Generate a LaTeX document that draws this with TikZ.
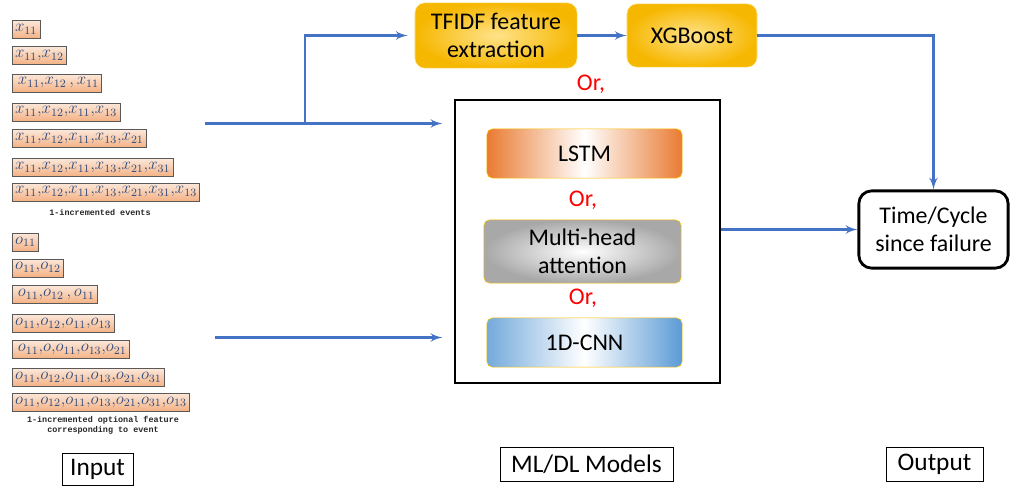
\documentclass[tikz,border=0pt]{standalone}
\usepackage{fontspec}
\setmainfont{Carlito}
\newfontfamily\notefont{Liberation Mono}
\usetikzlibrary{calc,positioning,arrows,shapes}

\definecolor{seqink}{HTML}{2F4B7C}
\definecolor{peachtop}{HTML}{FCE8DA}
\definecolor{peachbot}{HTML}{F4B183}
\definecolor{flowblue}{HTML}{4472C4}
\definecolor{goldedge}{HTML}{FFC000}
\definecolor{goldin}{HTML}{FFE38A}
\definecolor{goldout}{HTML}{F6B700}
\definecolor{lstmorange}{HTML}{E97B32}
\definecolor{cnnblue}{HTML}{5B9BD5}
\definecolor{attgray}{HTML}{A8A8A8}

\tikzset{
>=latex',
  seq/.style={
    rectangle,
    draw=black!65, thin,
    top color=peachtop, bottom color=peachbot,
    text=seqink,
    inner xsep=2pt, inner ysep=0pt,
    minimum height=12.8pt,
    anchor=west,
    font=\fontsize{12}{12}\selectfont},
  seqnote/.style={
    font=\notefont\bfseries\fontsize{6}{7}\selectfont,
    align=center, text=black!85},
  flow/.style={draw=flowblue, line width=1.9pt, ->},
  stage/.style={
    rectangle,
    rounded corners=7pt,
    draw=goldin, thin,
    inner color=goldin, outer color=goldout,
    align=center,
    font=\fontsize{17}{20}\selectfont},
  model/.style={
    rectangle,
    rounded corners=4pt,
    draw=goldedge, thin,
    minimum width=4.88cm,
    align=center,
    font=\fontsize{17}{20}\selectfont},
  orlabel/.style={text=red, font=\fontsize{17}{20}\selectfont},
  sectiontag/.style={
    rectangle, draw=black, thin,
    minimum height=0.85cm,
    font=\fontsize{18}{21}\selectfont},
}

\begin{document}
\begin{tikzpicture}[x=0.025cm, y=-0.025cm]
  \useasboundingbox (0,0) rectangle (1010,488);

  %% event sequences
  \node[seq] (x1) at (12,29.5) {$x_{11}$};
  \node[seq] (x2) at (12,55.5) {$x_{11}{,}x_{12}$};
  \node[seq] (x3) at (12,83) {$\,x_{11}{,}x_{12}\,{,}\,x_{11}$};
  \node[seq] (x4) at (12,112) {$x_{11}{,}x_{12}{,}x_{11}{,}x_{13}$};
  \node[seq] (x5) at (12,138.5) {$x_{11}{,}x_{12}{,}x_{11}{,}x_{13}{,}x_{21}$};
  \node[seq] (x6) at (12,167.5) {$x_{11}{,}x_{12}{,}x_{11}{,}x_{13}{,}x_{21}{,}x_{31}$};
  \node[seq] (x7) at (12,192) {$x_{11}{,}x_{12}{,}x_{11}{,}x_{13}{,}x_{21}{,}x_{31}{,}x_{13}$};
  \node[seqnote] (xnote) at (100,212) {1-incremented events};

  %% optional feature sequences
  \node[seq] (o1) at (12,242) {$o_{11}$};
  \node[seq] (o2) at (12,268) {$o_{11}{,}o_{12}$};
  \node[seq] (o3) at (12,294.5) {$\,o_{11}{,}o_{12}\,{,}\,o_{11}$};
  \node[seq] (o4) at (12,323.5) {$o_{11}{,}o_{12}{,}o_{11}{,}o_{13}$};
  \node[seq] (o5) at (12,349.5) {$\,o_{11}{,}o{,}o_{11}{,}o_{13}{,}o_{21}$};
  \node[seq] (o6) at (12,377.5) {$o_{11}{,}o_{12}{,}o_{11}{,}o_{13}{,}o_{21}{,}o_{31}$};
  \node[seq] (o7) at (12,402) {$o_{11}{,}o_{12}{,}o_{11}{,}o_{13}{,}o_{21}{,}o_{31}{,}o_{13}$};
  \node[seqnote] (onote) at (103,425.5) {1-incremented optional feature\\corresponding to event};

  %% classic pipeline
  \node[stage, minimum width=4.05cm, minimum height=1.63cm] (tfidf) at (496,35.5) {TFIDF feature\\extraction};
  \node[stage, minimum width=3.25cm, minimum height=1.58cm] (xgb) at (692,35.5) {XGBoost};
  \node[orlabel] (or1) at (591,84) {Or,};

  %% deep models
  \node[rectangle, draw=black, line width=1.8pt, minimum width=6.63cm, minimum height=7.08cm] (models) at (587.5,241.5) {};
  \node[model, minimum height=1.23cm, left color=lstmorange, right color=lstmorange, middle color=white] (lstm) at (584.5,153.5) {LSTM};
  \node[orlabel] (or2) at (583,200) {Or,};
  \node[model, minimum width=4.93cm, minimum height=1.58cm, inner color=white, outer color=attgray] (mha) at (582.5,251.5) {Multi-head\\attention};
  \node[orlabel] (or3) at (583,298) {Or,};
  \node[model, minimum height=1.23cm, left color=cnnblue!85, right color=cnnblue, middle color=white] (cnn) at (584.5,342.5) {1D-CNN};

  %% output
  \node[rectangle, rounded corners=9pt, draw=black, line width=2pt, minimum width=3.73cm, minimum height=1.93cm, align=center, font=\fontsize{17}{20}\selectfont] (time) at (933.5,229.5) {Time/Cycle\\since failure};

  %% column tags
  \node[sectiontag, minimum width=1.78cm, minimum height=0.8cm] (tagin) at (97.5,469) {Input};
  \node[sectiontag, minimum width=4.33cm] (tagml) at (586.5,464.5) {ML/DL Models};
  \node[sectiontag, minimum width=2.43cm] (tagout) at (934.5,464.5) {Output};

  %% connectors
  \coordinate (xin) at (205,123.5);
  \coordinate (split) at (305,123.5);
  \coordinate (oin) at (215,337.5);
  \draw[flow] (xin) -- ([xshift=-8]xin -| models.west);
  \draw[flow] (split) |- ([xshift=-5]tfidf.west);
  \draw[flow] (tfidf.east) -- (xgb.west);
  \draw[flow] (xgb.east) -| (time.north);
  \draw[flow] (oin) -- ([xshift=-8]oin -| models.west);
  \draw[flow] (models.east |- time.west) -- (time.west);
\end{tikzpicture}
\end{document}
